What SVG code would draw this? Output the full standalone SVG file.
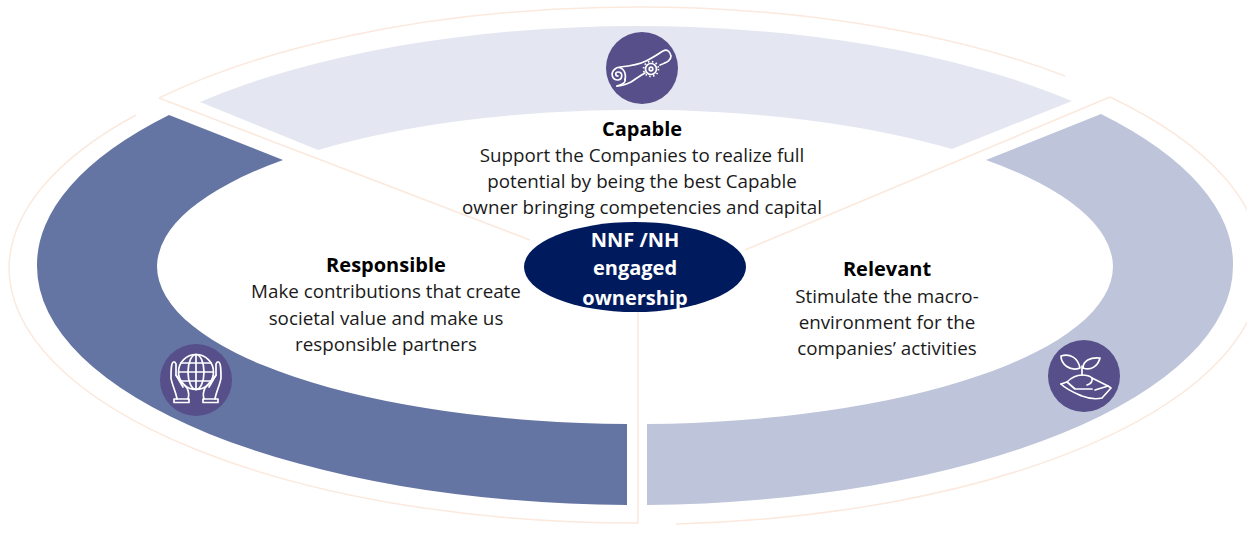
<svg xmlns="http://www.w3.org/2000/svg" width="1247" height="538" viewBox="0 0 1247 538">
<style>
.t{font-family:"Open Sans","Noto Sans",sans-serif;font-size:18.8px;fill:#1a1a1a;text-anchor:middle}
.h{font-weight:700;font-size:20px;fill:#000}
.c{font-family:"Open Sans","Noto Sans",sans-serif;font-size:20px;font-weight:700;fill:#fff;text-anchor:middle}
.o{fill:none;stroke:#fbe9dd;stroke-width:1.5}
.i{fill:none;stroke:#fff;stroke-width:1.7;stroke-linecap:round;stroke-linejoin:round}
.d{fill:#564f8a}
</style>
<rect width="1247" height="538" fill="#fff"/>
<g id="connectors">
<path class="o" d="M159 98A626 256 0 0 1 1065 76"/>
<path class="o" d="M159 98L530 240"/>
<path class="o" d="M1110 97L745 250"/>
<path class="o" d="M1110 97A626 256 0 0 1 1261 268A626 256 0 0 1 676 524"/>
<path class="o" d="M136 115A626 256 0 0 0 9 268A626 256 0 0 0 638 523V312"/>
</g>
<g id="band-capable"><path fill="#e4e7f1" d="M200 102A598 239 0 0 1 1072 101L952 149A478 158 0 0 0 318 150Z"/></g>
<g id="band-responsible"><path fill="#6575a3" d="M169 115A598 239 0 0 0 37 266A598 239 0 0 0 627 505V424A478 158 0 0 1 157 266A478 158 0 0 1 283 160Z"/></g>
<g id="band-relevant"><path fill="#bec5da" d="M1101 114A598 239 0 0 1 1233 266A598 239 0 0 1 647 505V424A478 158 0 0 0 1113 266A478 158 0 0 0 986 160Z"/></g>
<g id="node-capable">
<circle class="d" cx="642" cy="68" r="36"/>
<g class="i">
<path d="M620 67C630 66 640 64 646 61C652 58 658 54 663 51C667 49 670 51 671 56C671 60 668 62 660 65"/>
<path d="M617 86C622 86 627 84 631 82C637 78 641 75 645 73"/>
<path d="M625 80C627 70 620 65 615 69C610 73 612 80 618 80C623 79 623 72 618 72C615 72 615 76 618 76"/>
<path d="M625 79C626 82 624 84 617 86"/>
<circle cx="651" cy="69" r="5.5"/>
<circle cx="651" cy="69" r="1.8"/>
<circle cx="651" cy="69" r="7.5" stroke-dasharray="1.5 2.5" stroke-linecap="butt"/>
</g>
<text class="t h" x="642" y="136">Capable</text>
<text class="t" x="642" y="162">Support the Companies to realize full</text>
<text class="t" x="642" y="188">potential by being the best Capable</text>
<text class="t" x="642" y="214">owner bringing competencies and capital</text>
</g>
<g id="node-responsible">
<circle class="d" cx="196" cy="380" r="36"/>
<g class="i">
<circle cx="196" cy="372" r="17.5"/>
<ellipse cx="196" cy="372" rx="8" ry="17.5"/>
<path d="M196 354.500V389.500M181 363H211M179 372H213M181 381H211"/>
<path d="M177 399C176 392 172 385 171 378C171 372 171 367 172 364C173 361 175 361 176 364L176 375C177 378 182 382 187 388C189 392 189 396 188 399"/>
<path d="M215 399C216 392 220 385 221 378C221 372 221 367 220 364C219 361 217 361 216 364L216 375C215 378 210 382 205 388C203 392 203 396 204 399"/>
<path d="M176 375C178 378 181 384 183 387M216 375C214 378 211 384 209 387"/>
<path d="M174 399H189V402.500H174ZM203 399H218V402.500H203Z"/>
</g>
<text class="t h" x="386" y="272">Responsible</text>
<text class="t" x="386" y="298">Make contributions that create</text>
<text class="t" x="386" y="325">societal value and make us</text>
<text class="t" x="386" y="351">responsible partners</text>
</g>
<g id="node-relevant">
<circle class="d" cx="1084" cy="376" r="36"/>
<g class="i">
<path d="M1080 368C1078 358 1070 353 1061 356C1061 364 1070 372 1080 368ZM1083 368C1083 361 1090 357 1100 358C1098 366 1091 371 1083 368ZM1082 366V375"/>
<path d="M1067 382C1072 377 1077 375 1082 375C1086 375 1090 376 1092 378C1093 382 1090 384 1087 385"/>
<path d="M1061 384L1067 382L1075 389H1092"/>
<path d="M1061 384C1067 390 1075 393 1082 396C1090 399 1098 399 1102 398L1111 388L1108 386L1095 390"/>
<path d="M1092 378L1108 386"/>
</g>
<text class="t h" x="887" y="276">Relevant</text>
<text class="t" x="887" y="303">Stimulate the macro-</text>
<text class="t" x="887" y="329">environment for the</text>
<text class="t" x="887" y="355">companies’ activities</text>
</g>
<g id="node-center">
<ellipse cx="635" cy="267" rx="111" ry="45" fill="#001a5e"/>
<text class="c" x="635" y="247">NNF /NH</text>
<text class="c" x="635" y="275">engaged</text>
<text class="c" x="635" y="305">ownership</text>
</g>
</svg>
